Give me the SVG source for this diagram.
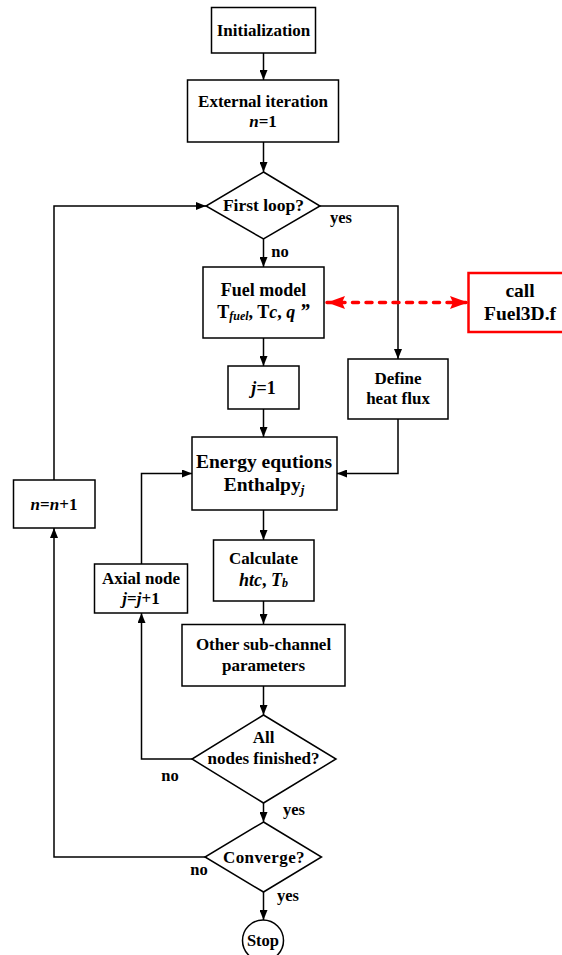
<svg xmlns="http://www.w3.org/2000/svg" width="562" height="955" viewBox="0 0 562 955">
  <style>
    .box { fill: #fff; stroke: #000; stroke-width: 1.5; }
    .line { fill: none; stroke: #000; stroke-width: 1.5; }
    text { font-family: "Liberation Serif", "Times New Roman", serif; font-weight: bold; fill: #000; }
    .t17 { font-size: 17px; text-anchor: middle; }
    .t18 { font-size: 18px; text-anchor: middle; }
    .t19 { font-size: 19.5px; text-anchor: middle; }
    .lbl { font-size: 16.5px; text-anchor: middle; }
    .it { font-style: italic; }
  </style>
  <defs>
    <marker id="arr" markerWidth="10" markerHeight="8" refX="10" refY="4" orient="auto" markerUnits="userSpaceOnUse">
      <path d="M0,0 L10,4 L0,8 Z" fill="#000"/>
    </marker>
    <marker id="arrRed" markerWidth="18" markerHeight="13" refX="18" refY="6.5" orient="auto-start-reverse" markerUnits="userSpaceOnUse">
      <path d="M0,0 L18,6.5 L0,13 L3,6.5 Z" fill="#ff0000"/>
    </marker>
  </defs>

  <rect width="562" height="955" fill="#fff"/>

  <!-- connectors -->
  <g id="connectors">
    <path class="line" d="M263.5,53 V80" marker-end="url(#arr)"/>
    <path class="line" d="M263.5,142 V172" marker-end="url(#arr)"/>
    <path class="line" d="M263.5,239 V267" marker-end="url(#arr)"/>
    <path class="line" d="M320,206 H398 V359" marker-end="url(#arr)"/>
    <path class="line" d="M263.5,338 V366" marker-end="url(#arr)"/>
    <path class="line" d="M263.5,409 V437" marker-end="url(#arr)"/>
    <path class="line" d="M398,419 V473.5 H337" marker-end="url(#arr)"/>
    <path class="line" d="M263.5,510 V540" marker-end="url(#arr)"/>
    <path class="line" d="M263.5,601 V624" marker-end="url(#arr)"/>
    <path class="line" d="M263.5,686 V715" marker-end="url(#arr)"/>
    <path class="line" d="M192,759 H141.5 V613" marker-end="url(#arr)"/>
    <path class="line" d="M141.5,564 V473.5 H192" marker-end="url(#arr)"/>
    <path class="line" d="M263.5,803 V822" marker-end="url(#arr)"/>
    <path class="line" d="M205,857 H54 V528" marker-end="url(#arr)"/>
    <path class="line" d="M54,480 V206 H206" marker-end="url(#arr)"/>
    <path class="line" d="M263.5,892 V920" marker-end="url(#arr)"/>
    <path d="M327,302.5 H466" fill="none" stroke="#ff0000" stroke-width="3.5" stroke-linecap="round" stroke-dasharray="6,7.5" stroke-dashoffset="-12"/>
    <path d="M345,302.5 H327" fill="none" stroke="none" marker-end="url(#arrRed)"/>
    <path d="M448,302.5 H468" fill="none" stroke="none" marker-end="url(#arrRed)"/>
  </g>

  <!-- connector labels -->
  <g id="labels">
    <text class="lbl" x="341" y="223">yes</text>
    <text class="lbl" x="280" y="257">no</text>
    <text class="lbl" x="170" y="781">no</text>
    <text class="lbl" x="294" y="815">yes</text>
    <text class="lbl" x="199" y="875">no</text>
    <text class="lbl" x="288" y="901">yes</text>
  </g>

  <g id="init">
    <rect class="box" x="211.5" y="7.5" width="104" height="45.5"/>
    <text class="t17" x="263.5" y="36">Initialization</text>
  </g>

  <g id="external">
    <rect class="box" x="187.5" y="80" width="151" height="62"/>
    <text class="t17" x="263" y="107">External iteration</text>
    <text class="t17" x="263" y="127"><tspan class="it">n</tspan>=1</text>
  </g>

  <g id="first-loop">
    <polygon class="box" points="263.5,172 320,206 263.5,239 206,206"/>
    <text class="t17" x="263.5" y="211" style="font-size:17.5px">First loop?</text>
  </g>

  <g id="fuel-model">
    <rect class="box" x="203" y="267" width="121" height="71"/>
    <text class="t18" x="263.5" y="296">Fuel model</text>
    <text class="t18" x="263.5" y="317.5">T<tspan class="it" font-size="12" dy="2">fuel</tspan><tspan dy="-2">, T</tspan><tspan class="it">c</tspan>, <tspan class="it">q</tspan> <tspan class="it" font-size="20">”</tspan></text>
  </g>

  <g id="fuel3d">
    <rect x="468.5" y="273" width="110" height="59" fill="#fff" stroke="#ff0000" stroke-width="2.5"/>
    <text class="t19" x="520" y="297">call</text>
    <text class="t19" x="520" y="320">Fuel3D.f</text>
  </g>

  <g id="j-init">
    <rect class="box" x="228" y="366" width="71" height="43"/>
    <text class="t18" x="263.5" y="393.5"><tspan class="it">j</tspan>=1</text>
  </g>

  <g id="heat-flux">
    <rect class="box" x="348" y="359" width="100" height="60"/>
    <text class="t17" x="398" y="384">Define</text>
    <text class="t17" x="398" y="403.5">heat flux</text>
  </g>

  <g id="energy">
    <rect class="box" x="192" y="437" width="145" height="73"/>
    <text class="t19" x="264" y="467.5">Energy equtions</text>
    <text class="t19" x="264" y="491">Enthalpy<tspan class="it" font-size="13" dy="3">j</tspan></text>
  </g>

  <g id="n-inc">
    <rect class="box" x="13.5" y="480" width="81.5" height="48"/>
    <text class="t17" x="54" y="510"><tspan class="it">n</tspan>=<tspan class="it">n</tspan>+1</text>
  </g>

  <g id="axial">
    <rect class="box" x="94.5" y="564" width="93" height="49"/>
    <text class="t17" x="141" y="583.5">Axial node</text>
    <text class="t17" x="141" y="603.5"><tspan class="it">j</tspan>=<tspan class="it">j</tspan>+1</text>
  </g>

  <g id="calculate">
    <rect class="box" x="213.5" y="540" width="100.5" height="61"/>
    <text class="t17" x="263.5" y="563.5">Calculate</text>
    <text class="t17" x="263.5" y="586" style="font-size:18px"><tspan class="it">htc</tspan>, <tspan class="it">T</tspan><tspan class="it" font-size="12" dy="1">b</tspan></text>
  </g>

  <g id="other">
    <rect class="box" x="182" y="624.5" width="163" height="61.5"/>
    <text class="t17" x="263.5" y="650">Other sub-channel</text>
    <text class="t17" x="263.5" y="671">parameters</text>
  </g>

  <g id="all-nodes">
    <polygon class="box" points="263.5,715 336,759 263.5,803 192,759"/>
    <text class="t17" x="263.5" y="743">All</text>
    <text class="t17" x="263.5" y="763.5">nodes finished?</text>
  </g>

  <g id="converge">
    <polygon class="box" points="263.5,822 321.5,857 263.5,892 205,857"/>
    <text class="t17" x="264" y="863" letter-spacing="0.4">Converge?</text>
  </g>

  <g id="stop">
    <circle class="box" cx="263" cy="940.5" r="20.5"/>
    <text class="t17" x="263" y="946" style="font-size:16.5px">Stop</text>
  </g>
</svg>
